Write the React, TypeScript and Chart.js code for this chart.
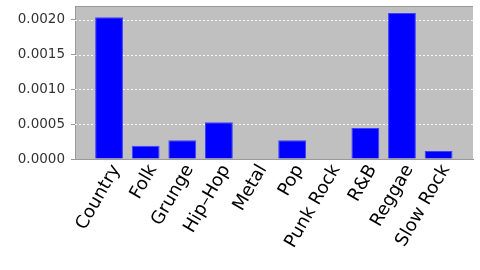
import React, { useEffect, useRef } from "react";
import { Chart, registerables } from "chart.js";

Chart.register(...registerables);

const categories = ["Country", "Folk", "Grunge", "Hip–Hop", "Metal", "Pop", "Punk Rock", "R&B", "Reggae", "Slow Rock"];
const values = [0.00204, 0.00019, 0.00027, 0.00053, 0, 0.00027, 0, 0.000445, 0.0021, 0.000115];
const yTicks = [0, 0.0005, 0.001, 0.0015, 0.002];
const labelShift = 0.2;

const plotBg = {
  id: "plotBg",
  beforeDraw(chart: any) {
    const { ctx, chartArea } = chart;
    if (!chartArea) return;
    ctx.save();
    ctx.fillStyle = "#c0c0c0";
    ctx.fillRect(chartArea.left, chartArea.top, chartArea.right - chartArea.left, chartArea.bottom - chartArea.top);
    ctx.strokeStyle = "#999999";
    ctx.lineWidth = 1;
    ctx.beginPath();
    ctx.moveTo(chartArea.left, chartArea.top + 0.5);
    ctx.lineTo(chartArea.right, chartArea.top + 0.5);
    ctx.stroke();
    ctx.restore();
  },
  beforeDatasetsDraw(chart: any) {
    const { ctx, chartArea, scales } = chart;
    const y = scales.y;
    ctx.save();
    ctx.strokeStyle = "rgba(255,255,255,0.9)";
    ctx.lineWidth = 1;
    ctx.setLineDash([2, 2]);
    for (const t of y.ticks) {
      const py = Math.round(y.getPixelForValue(t.value)) + 0.5;
      if (t.value === 0) continue;
      ctx.beginPath();
      ctx.moveTo(chartArea.left, py);
      ctx.lineTo(chartArea.right, py);
      ctx.stroke();
    }
    ctx.restore();
  },
};

export default function App() {
  const ref = useRef<HTMLCanvasElement>(null);
  useEffect(() => {
    const chart = new Chart(ref.current!, {
      type: "bar",
      data: {
        datasets: [
          {
            data: values.map((v, i) => ({ x: i, y: v })),
            backgroundColor: "#0000ff",
            borderColor: "#4040ff",
            borderWidth: 1,
            barPercentage: 0.76,
            categoryPercentage: 1,
          },
        ],
      },
      options: {
        animation: false,
        responsive: false,
        maintainAspectRatio: false,
        layout: { padding: { top: 6, right: 7, left: 0, bottom: 0 } },
        plugins: { legend: { display: false }, tooltip: { enabled: false } },
        scales: {
          x: {
            type: "linear",
            offset: false,
            min: -0.93,
            max: 9.94,
            afterBuildTicks: (s: any) => {
              s.ticks = categories.map((_, i) => ({ value: i + labelShift }));
            },
            grid: { display: false, drawTicks: false, offset: false },
            border: { color: "#999999" },
            ticks: {
              minRotation: 60,
              maxRotation: 60,
              autoSkip: false,
              color: "#000000",
              padding: 2,
              font: { family: "DejaVu Sans", size: 18 },
              callback: (v: any) => categories[Math.round(Number(v) - labelShift)] ?? "",
            },
            afterFit: (s: any) => {
              s.height = 111;
              s.paddingLeft = 0;
              s.paddingRight = 0;
            },
          },
          y: {
            min: 0,
            max: 0.0022,
            afterBuildTicks: (s: any) => {
              s.ticks = yTicks.map((v) => ({ value: v }));
            },
            grid: {
              color: "rgba(0,0,0,0)",
              tickColor: "#999999",
              tickLength: 4,
            },
            border: { color: "#999999" },
            ticks: {
              color: "#333333",
              padding: 6,
              font: { family: "DejaVu Sans", size: 13.5 },
              callback: (v: any) => Number(v).toFixed(4),
            },
            afterFit: (s: any) => {
              s.width = 75;
              s.paddingTop = 0;
              s.paddingBottom = 0;
            },
          },
        },
      },
      plugins: [plotBg],
    });
    return () => chart.destroy();
  }, []);
  return (
    <div style={{ position: "fixed", left: 0, top: 0, width: 480, height: 270, background: "#fff" }}>
      <canvas ref={ref} width={480} height={270} style={{ width: 480, height: 270 }} />
    </div>
  );
}
